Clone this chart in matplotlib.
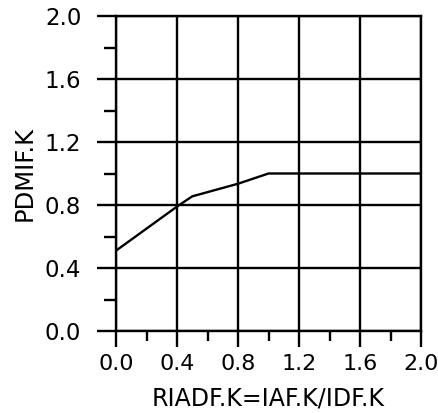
import matplotlib
matplotlib.use("Agg")
import matplotlib.pyplot as plt
from matplotlib.ticker import MultipleLocator

# Data
x_vals = [0.0, 0.4, 0.5, 0.8, 1.0, 2.0]
y_vals = [0.51, 0.79, 0.855, 0.935, 1.0, 1.0]
x_ticks = [0.0, 0.4, 0.8, 1.2, 1.6, 2.0]
y_ticks = [0.0, 0.4, 0.8, 1.2, 1.6, 2.0]
x_label = "RIADF.K=IAF.K/IDF.K"
y_label = "PDMIF.K"

plt.rcParams['font.family'] = ['DejaVu Sans']

W, H = 438, 413
fig = plt.figure(figsize=(W / 100, H / 100), dpi=100)
left, right, top, bottom = 116, 421, 16, 331
ax = fig.add_axes([left / W, (H - bottom) / H, (right - left) / W, (bottom - top) / H])

ax.plot(x_vals, y_vals, color='black', lw=1.7, solid_joinstyle='round')

ax.set_xlim(0, 2.0)
ax.set_ylim(0, 2.0)
ax.set_xticks(x_ticks)
ax.set_yticks(y_ticks)
ax.set_xticklabels([f"{v:.1f}" for v in x_ticks])
ax.set_yticklabels([f"{v:.1f}" for v in y_ticks])
ax.xaxis.set_minor_locator(MultipleLocator(0.2))
ax.yaxis.set_minor_locator(MultipleLocator(0.2))

ax.grid(True, which='major', color='black', lw=1.7)
ax.set_axisbelow(False)

for s in ax.spines.values():
    s.set_linewidth(1.7)
    s.set_color('black')

ax.tick_params(axis='y', which='major', length=14, width=1.7, pad=11, labelsize=16.5, direction='out')
ax.tick_params(axis='y', which='minor', length=8.5, width=1.7, direction='out')
ax.tick_params(axis='x', which='major', length=11.5, width=1.7, pad=5, labelsize=16, direction='out')
ax.tick_params(axis='x', which='minor', length=7.5, width=1.7, direction='out')

ax.set_xlabel(x_label, fontsize=17, va='center')
ax.set_ylabel(y_label, fontsize=17.5, va='center')
ax.xaxis.set_label_coords(0.5, (bottom - 399) / (bottom - top))
ax.yaxis.set_label_coords((25 - left) / (right - left), 0.5)

fig.savefig("out.png", dpi=100)
